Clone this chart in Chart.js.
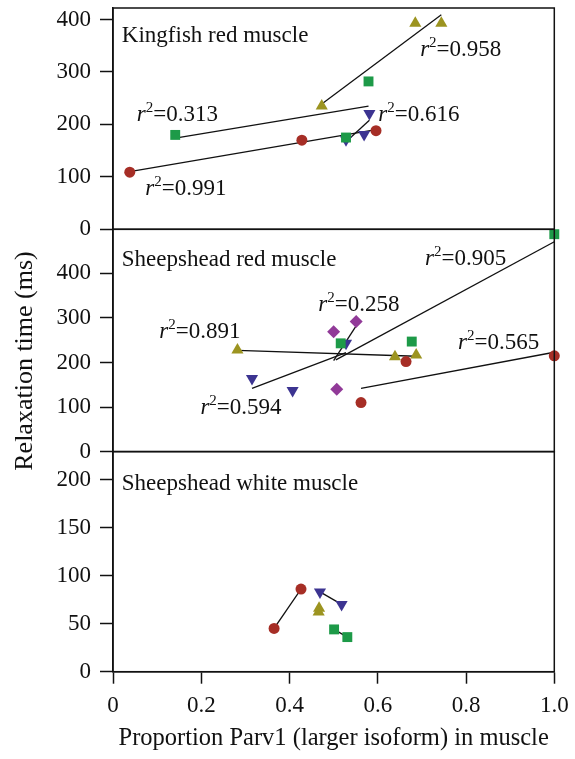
<!DOCTYPE html>
<html>
<head>
<meta charset="utf-8">
<script src="https://cdn.jsdelivr.net/npm/chart.js@4/dist/chart.umd.min.js"></script>
<style>
  html, body { margin: 0; padding: 0; background: #fff; }
  #wrap { position: relative; width: 575px; height: 759px; }
  #wrap canvas { position: absolute; left: 0; top: 0; }
</style>
</head>
<body>
<div id="wrap">
  <canvas id="kingfish" width="575" height="759"></canvas>
  <canvas id="shRed" width="575" height="759"></canvas>
  <canvas id="shWhite" width="575" height="759"></canvas>
</div>
<script>
// axis ticks
const xTicks = [0, 0.2, 0.4, 0.6, 0.8, 1.0];
const xTickLabels = ['0', '0.2', '0.4', '0.6', '0.8', '1.0'];
const kfTicks = [0, 100, 200, 300, 400];
const srTicks = [0, 100, 200, 300, 400];
const swTicks = [0, 50, 100, 150, 200];

const panelTitles = ['Kingfish red muscle', 'Sheepshead red muscle', 'Sheepshead white muscle'];

// Kingfish red muscle  [proportion Parv1, relaxation time ms]
const kfCircles = [[0.038, 109], [0.428, 170], [0.596, 188]];
const kfCircleFit = [[0.038, 110], [0.596, 190]];
const kfSquares = [[0.141, 180], [0.528, 175], [0.579, 282]];
const kfSquareFit = [[0.141, 174], [0.579, 235]];
const kfUp = [[0.473, 235], [0.685, 393], [0.744, 393]];
const kfUpFit = [[0.473, 239], [0.744, 409]];
const kfDown = [[0.528, 171], [0.569, 181], [0.581, 221]];
const kfDownFit = [[0.528, 167], [0.581, 208]];
const kfR2 = ['0.991', '0.313', '0.958', '0.616'];

// Sheepshead red muscle
const srCircles = [[0.562, 110], [0.664, 202], [1.0, 215]];
const srCircleFit = [[0.562, 142], [1.0, 223]];
const srSquares = [[0.516, 243], [0.677, 247], [1.0, 488]];
const srSquareFit = [[0.505, 206], [1.0, 471]];
const srUp = [[0.282, 228], [0.639, 213], [0.687, 217]];
const srUpFit = [[0.282, 227], [0.687, 214]];
const srDown = [[0.315, 164], [0.407, 137], [0.528, 243]];
const srDownFit = [[0.315, 142], [0.528, 222]];
const srDiamonds = [[0.5, 269], [0.551, 292], [0.507, 140]];
const srDiamondFit = [[0.5, 204], [0.551, 282]];
const srR2 = ['0.565', '0.905', '0.891', '0.594', '0.258'];

// Sheepshead white muscle
const swCircles = [[0.365, 45], [0.426, 86]];
const swDown = [[0.469, 83], [0.518, 70]];
const swUp = [[0.466, 62], [0.467, 66]];
const swSquares = [[0.501, 44], [0.531, 36]];

// label placement (data coords, left / baseline)
const kfTitlePos = [0.02, 357];
const kfR2Pos = [[0.073, 66], [0.054, 206], [0.696, 331], [0.601, 206]];
const srTitlePos = [0.02, 417];
const srR2Pos = [[0.782, 230], [0.707, 418], [0.105, 254], [0.198, 84], [0.465, 315]];
const swTitlePos = [0.02, 189];

const FONT = '"Liberation Serif", "Times New Roman", serif';
const INK = '#111';
Chart.defaults.font.family = FONT;
Chart.defaults.font.size = 23;
Chart.defaults.color = INK;

const marks = {
  circle: { pointStyle: 'circle', pointRadius: 5.5, color: '#a62e26' },
  square: { pointStyle: 'rect', pointRadius: 7, color: '#1d9a48' },
  up: { pointStyle: 'triangle', pointRadius: 7, color: '#9c9420' },
  down: { pointStyle: 'triangle', rotation: 180, pointRadius: 7, color: '#3c3491' },
  diamond: { pointStyle: 'rectRot', pointRadius: 6.5, color: '#913a98' }
};

function pts(arr) {
  return arr.map(p => ({ x: p[0], y: p[1] }));
}

function markSet(arr, kind, joined) {
  const m = marks[kind];
  return {
    data: pts(arr),
    pointStyle: m.pointStyle,
    rotation: m.rotation || 0,
    pointRadius: m.pointRadius,
    pointBackgroundColor: m.color,
    pointBorderColor: m.color,
    pointBorderWidth: 0,
    showLine: !!joined,
    borderColor: INK,
    borderWidth: 1.3,
    clip: false
  };
}

function fitSet(arr) {
  return {
    data: pts(arr),
    showLine: true,
    pointRadius: 0,
    borderColor: INK,
    borderWidth: 1.3,
    clip: false
  };
}

const annotate = {
  id: 'annotate',
  afterDatasetsDraw(chart, args, o) {
    const { ctx, chartArea: a, scales: { x, y } } = chart;
    ctx.save();
    ctx.strokeStyle = INK;
    ctx.lineWidth = 1.5;
    ctx.strokeRect(a.left, a.top, a.right - a.left, a.bottom - a.top);
    ctx.fillStyle = INK;
    ctx.textBaseline = 'alphabetic';
    ctx.textAlign = 'left';
    ctx.font = '23px ' + FONT;
    ctx.fillText(o.title, x.getPixelForValue(o.titlePos[0]), y.getPixelForValue(o.titlePos[1]));
    (o.r2 || []).forEach((val, i) => {
      let px = x.getPixelForValue(o.r2Pos[i][0]);
      const py = y.getPixelForValue(o.r2Pos[i][1]);
      ctx.font = 'italic 23px ' + FONT;
      ctx.fillText('r', px, py);
      px += ctx.measureText('r').width;
      ctx.font = '15px ' + FONT;
      ctx.fillText('2', px, py - 9);
      px += ctx.measureText('2').width;
      ctx.font = '23px ' + FONT;
      ctx.fillText('=' + val, px, py);
    });
    if (o.yTitle) {
      ctx.translate(25, 361);
      ctx.rotate(-Math.PI / 2);
      ctx.textAlign = 'center';
      ctx.textBaseline = 'middle';
      ctx.font = '26px ' + FONT;
      ctx.fillText(o.yTitle, 0, 0);
    }
    ctx.restore();
  }
};

function makePanel(id, cfg) {
  new Chart(document.getElementById(id), {
    type: 'scatter',
    data: { datasets: cfg.datasets },
    plugins: [annotate],
    options: {
      responsive: false,
      animation: false,
      layout: { padding: { left: 0, right: 20.7, top: cfg.top, bottom: cfg.bottom } },
      plugins: {
        legend: { display: false },
        tooltip: { enabled: false },
        annotate: { title: cfg.title, titlePos: cfg.titlePos, r2: cfg.r2, r2Pos: cfg.r2Pos, yTitle: cfg.yTitle }
      },
      scales: {
        x: {
          type: 'linear',
          min: 0,
          max: 1,
          display: cfg.showX,
          afterBuildTicks: s => { s.ticks = xTicks.map(v => ({ value: v })); },
          afterFit: s => { s.height = cfg.showX ? 759 - 671.7 : 0; s.paddingLeft = 0; s.paddingRight = 0; },
          ticks: { padding: 8, maxRotation: 0, autoSkip: false, callback: v => xTickLabels[xTicks.indexOf(v)] },
          grid: { drawOnChartArea: false, tickLength: 12, tickWidth: 1.5, tickColor: INK },
          border: { color: INK, width: 1.5 },
          title: { display: true, text: 'Proportion Parv1 (larger isoform) in muscle', font: { size: 24.5 }, padding: { top: 0, bottom: 6 } }
        },
        y: {
          type: 'linear',
          min: 0,
          max: cfg.yMax,
          afterBuildTicks: s => { s.ticks = cfg.yTicks.map(v => ({ value: v })); },
          afterFit: s => { s.width = 113; s.paddingTop = 0; s.paddingBottom = 0; },
          ticks: { padding: 9, autoSkip: false },
          grid: { drawOnChartArea: false, tickLength: 13, tickWidth: 1.5, tickColor: INK },
          border: { color: INK, width: 1.5 }
        }
      }
    }
  });
}

makePanel('kingfish', {
  top: 8, bottom: 759 - 229.3, yMax: 422, yTicks: kfTicks, showX: false,
  title: panelTitles[0], titlePos: kfTitlePos, r2: kfR2, r2Pos: kfR2Pos,
  datasets: [
    markSet(kfCircles, 'circle'), markSet(kfSquares, 'square'),
    markSet(kfUp, 'up'), markSet(kfDown, 'down'),
    fitSet(kfCircleFit), fitSet(kfSquareFit), fitSet(kfUpFit), fitSet(kfDownFit)
  ]
});

makePanel('shRed', {
  top: 229.3, bottom: 759 - 451.6, yMax: 499, yTicks: srTicks, showX: false,
  title: panelTitles[1], titlePos: srTitlePos, r2: srR2, r2Pos: srR2Pos,
  yTitle: 'Relaxation time (ms)',
  datasets: [
    markSet(srCircles, 'circle'), markSet(srSquares, 'square'),
    markSet(srUp, 'up'), markSet(srDown, 'down'), markSet(srDiamonds, 'diamond'),
    fitSet(srCircleFit), fitSet(srSquareFit), fitSet(srUpFit), fitSet(srDownFit), fitSet(srDiamondFit)
  ]
});

makePanel('shWhite', {
  top: 451.6, bottom: 0, yMax: 229, yTicks: swTicks, showX: true,
  title: panelTitles[2], titlePos: swTitlePos,
  datasets: [
    markSet(swCircles, 'circle', true), markSet(swSquares, 'square', true),
    markSet(swUp, 'up', true), markSet(swDown, 'down', true)
  ]
});
</script>
</body>
</html>
